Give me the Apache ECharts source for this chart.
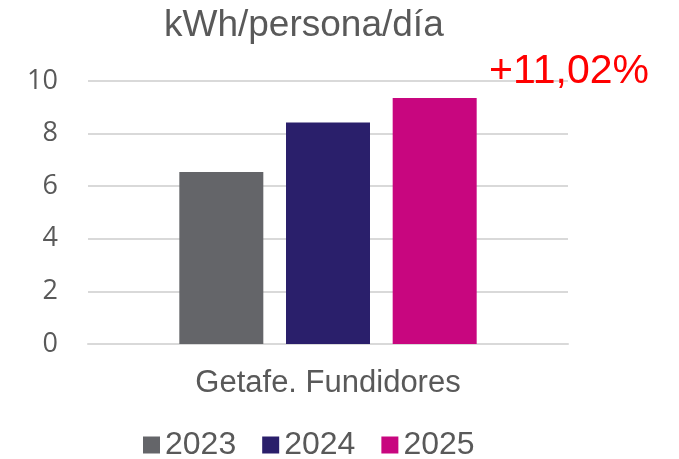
<!DOCTYPE html>
<html>
<head>
<meta charset="utf-8">
<script src="https://cdn.jsdelivr.net/npm/echarts@6/dist/echarts.min.js"></script>
<style>
  html, body { margin: 0; padding: 0; background: #fff; }
  #chart { width: 679px; height: 459px; }
</style>
</head>
<body>
<div id="chart"></div>
<script>
// datos
const categories = ['Getafe. Fundidores']
const years = ['2023', '2024', '2025']
const values2023 = [6.54]
const values2024 = [8.42]
const values2025 = [9.35]
const colors = ['#646569', '#2a1f6b', '#c8067f']
const unitTitle = 'kWh/persona/día'
const changeLabel = '+11,02%'

const seriesValues = [values2023, values2024, values2025]

const myChart = echarts.init(document.getElementById('chart'))

const option = {
  animation: false,
  color: colors,
  title: [
    {
      text: unitTitle,
      left: 159,
      top: 2,
      textStyle: {
        fontFamily: 'Liberation Sans',
        fontSize: 37,
        fontWeight: 'normal',
        color: '#595959'
      }
    },
    {
      text: changeLabel,
      left: 484,
      top: 46,
      textStyle: {
        fontFamily: 'Liberation Sans',
        fontSize: 41,
        fontWeight: 'normal',
        color: '#ff0000'
      }
    }
  ],
  legend: {
    top: 424,
    left: 138,
    itemWidth: 17,
    itemHeight: 17,
    itemGap: 26,
    icon: 'rect',
    textStyle: {
      fontFamily: 'Liberation Sans',
      fontSize: 32,
      color: '#595959'
    },
    data: years
  },
  grid: {
    left: 88,
    right: 111,
    top: 81,
    bottom: 115,
    containLabel: false
  },
  xAxis: {
    type: 'category',
    data: categories,
    axisLine: { lineStyle: { color: '#d9d9d9', width: 2 } },
    axisTick: { show: false },
    axisLabel: {
      margin: 24,
      fontFamily: 'Liberation Sans',
      fontSize: 31,
      color: '#595959'
    }
  },
  yAxis: {
    type: 'value',
    min: 0,
    max: 10,
    interval: 2,
    axisLine: { show: false },
    axisTick: { show: false },
    splitLine: { lineStyle: { color: '#d9d9d9', width: 2 } },
    axisLabel: {
      margin: 30,
      fontFamily: 'Open Sans',
      fontSize: 27,
      color: '#595959'
    }
  },
  series: years.map((y, i) => ({
    name: y,
    type: 'bar',
    data: seriesValues[i],
    barWidth: 84,
    barGap: '27%'
  }))
}

myChart.setOption(option)
</script>
</body>
</html>
